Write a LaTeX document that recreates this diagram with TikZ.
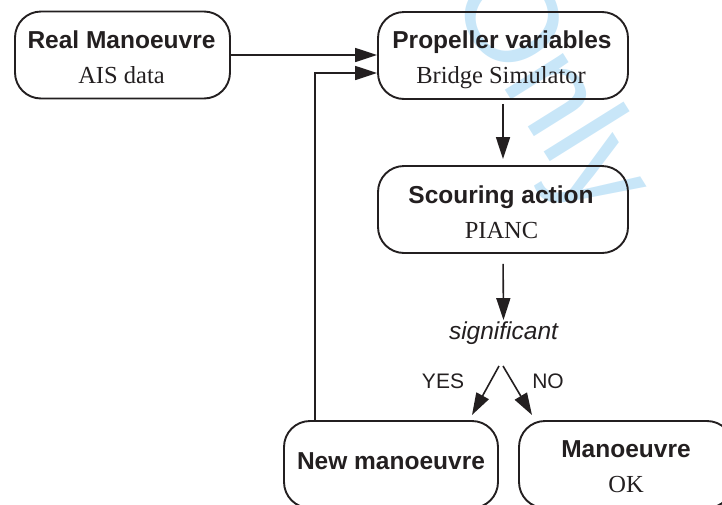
\documentclass[tikz,border=0pt]{standalone}
\usepackage{fontspec}
\setmainfont{Liberation Serif}
\setsansfont{Liberation Sans}
\usetikzlibrary{arrows.meta}
\definecolor{ink}{RGB}{35,31,32}
\definecolor{wmark}{RGB}{200,230,248}
\begin{document}
\begin{tikzpicture}[x=1pt,y=-1pt,
  box/.style={draw=ink,line width=1.9pt,rounded corners=26pt,
    minimum width=#1,minimum height=87pt,inner sep=0pt},
  box/.default=250pt,
  head/.style={font=\sffamily\bfseries\fontsize{24.5}{28}\selectfont,
    text=ink,anchor=base,inner sep=0pt},
  sub/.style={font=\rmfamily\fontsize{24.5}{28}\selectfont,
    text=ink,anchor=base,inner sep=0pt},
  lab/.style={font=\sffamily\fontsize{21}{24}\selectfont,
    text=ink,anchor=base,inner sep=0pt},
  flow/.style={draw=ink,line width=1.6pt,
    -{Triangle[length=22pt,width=14pt]}},
]
\path[use as bounding box] (0,0) rectangle (722,504);
\clip (0,0) rectangle (722,504);

% background watermark
\node[font=\sffamily\fontsize{130}{130}\selectfont,text=wmark,
  rotate=-58,inner sep=0pt,anchor=base west] (wm) at (447,-3) {Only};

% process boxes
\node[box=215pt] (real)  at (122.5,55) {};
\node[box]       (prop)  at (503,55.5) {};
\node[box]       (scour) at (503,209.5) {};
\node[box=214pt] (new)   at (391,464.5) {};
\node[box=214pt] (ok)    at (626,464.5) {};

% box texts
\node[head] (realT)  at (121.5,48) {Real Manoeuvre};
\node[sub]  (realS)  at (121.5,83) {AIS data};
\node[head] (propT)  at (502,48)   {Propeller variables};
\node[sub]  (propS)  at (501,83)   {Bridge Simulator};
\node[head] (scourT) at (501,203)  {Scouring action};
\node[sub]  (scourS) at (501.5,238){PIANC};
\node[head] (newT)   at (391,469)  {New manoeuvre};
\node[head] (okT)    at (626,457)  {Manoeuvre};
\node[sub]  (okS)    at (626,492)  {OK};

% decision
\node[font=\sffamily\itshape\fontsize{24.5}{28}\selectfont,text=ink,
  anchor=base,inner sep=0pt] (sig) at (503.5,339) {significant};
\node[lab] (yes) at (443,388) {YES};
\node[lab] (no)  at (548,388) {NO};

\coordinate (yesFrom) at (499,366);
\coordinate (yesTo)   at (472,415);
\coordinate (noFrom)  at (503,366);
\coordinate (noTo)    at (532,415);

% connectors
\draw[flow] (real.east) -- (prop.west |- real.east);
\draw[flow] (new.north -| 315,0) |- ([yshift=-17.5pt]prop.west);
\draw[flow,shorten <=4pt,shorten >=6pt] (prop.south) -- (scour.north);
\draw[flow,shorten <=10pt,shorten >=1pt] (scour.south) -- (sig.north);
\draw[flow] (yesFrom) -- (yesTo);
\draw[flow] (noFrom) -- (noTo);
\end{tikzpicture}
\end{document}
